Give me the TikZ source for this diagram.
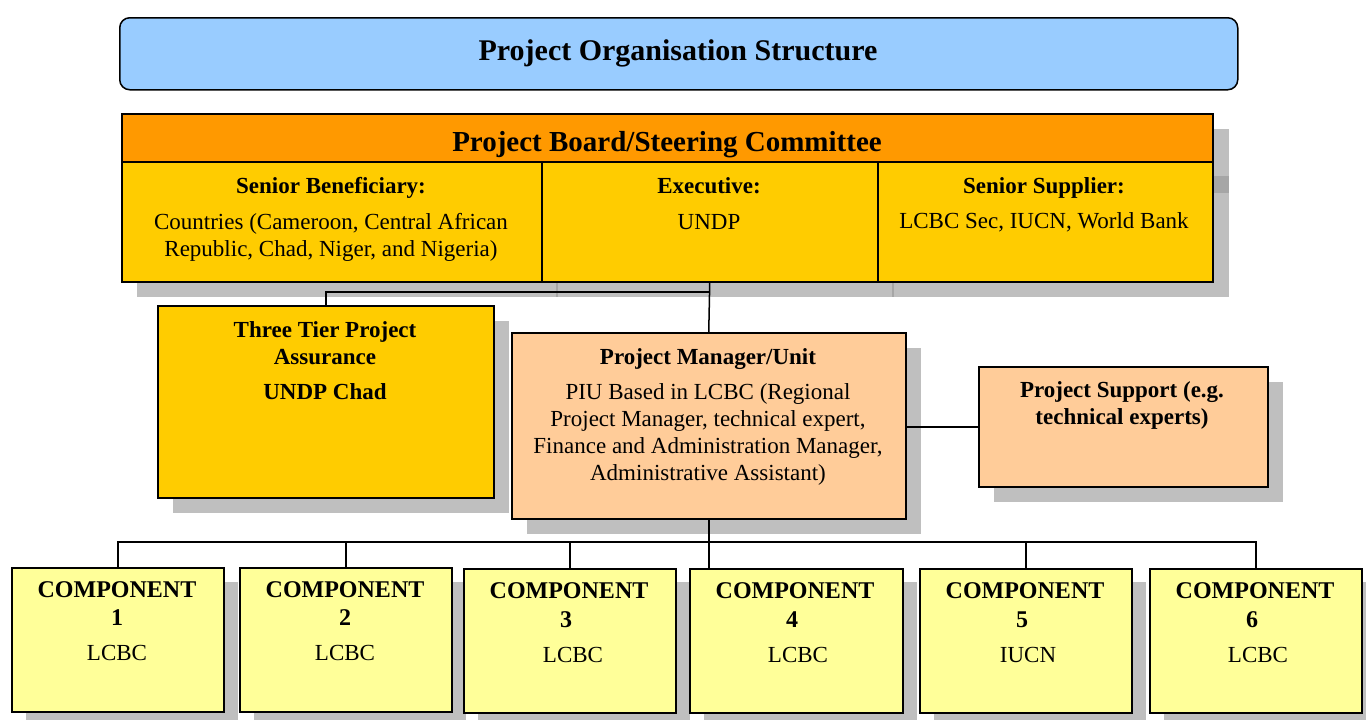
\documentclass[tikz,border=0pt]{standalone}
\usepackage{fontspec}
\setmainfont{Liberation Serif}
\definecolor{titleblue}{HTML}{99CCFF}
\definecolor{hdorange}{HTML}{FF9900}
\definecolor{cellgold}{HTML}{FFCC00}
\definecolor{peach}{HTML}{FFCC99}
\definecolor{paleyellow}{HTML}{FFFF99}
\definecolor{shadowgray}{HTML}{BFBFBF}
\definecolor{shadowdark}{HTML}{A6A6A6}
\begin{document}
\begin{tikzpicture}[x=1pt,y=-1pt,
  box/.style={draw=black,line width=1.5pt,inner sep=0pt,anchor=north west},
  conn/.style={draw=black,line width=1.5pt},
  shade/.style={fill=shadowgray},
  hd/.style={font=\bfseries\fontsize{23}{27}\selectfont,align=center,inner sep=0pt,anchor=base},
  bd/.style={font=\fontsize{23}{27}\selectfont,align=center,inner sep=0pt,anchor=base},
  cmp/.style={font=\bfseries\fontsize{24}{28}\selectfont,align=center,inner sep=0pt,anchor=base}
]
\useasboundingbox (0,0) rectangle (1366,720);

% ---------- shadows ----------
\fill[shade] (137,129) rectangle (1229,297);
\fill[shadowdark] (1213,176) rectangle (1229,193);
\draw[shadowdark,line width=1.2pt] (557,281) -- (557,297);
\draw[shadowdark,line width=1.2pt] (893,281) -- (893,297);
\fill[shade] (173,321) rectangle (509,513);
\fill[shade] (527,348) rectangle (921,534);
\fill[shade] (994,382) rectangle (1283,502);
\fill[shade] (26,582) rectangle (238,730);
\fill[shade] (254,582) rectangle (466,730);
\fill[shade] (478,582) rectangle (690,730);
\fill[shade] (704,582) rectangle (917,730);
\fill[shade] (934,582) rectangle (1146,730);
\fill[shade] (1164,582) rectangle (1376,730);

% ---------- boxes ----------
\node[box,fill=titleblue,rounded corners=10pt,minimum width=1118pt,minimum height=72pt] (ttl) at (119,17) {};
\node[box,fill=hdorange,minimum width=1091pt,minimum height=48pt] (hdr) at (121,113) {};
\node[box,fill=cellgold,minimum width=420pt,minimum height=120pt] (sben) at (121,161) {};
\node[box,fill=cellgold,minimum width=336pt,minimum height=120pt] (exec) at (541,161) {};
\node[box,fill=cellgold,minimum width=335pt,minimum height=120pt] (ssup) at (877,161) {};

\node[box,fill=cellgold,minimum width=336pt,minimum height=192pt] (assu) at (157,305) {};
\node[box,fill=peach,minimum width=394pt,minimum height=186pt] (pm) at (511,332) {};
\node[box,fill=peach,minimum width=289pt,minimum height=120pt] (supp) at (978,366) {};

\node[box,fill=paleyellow,minimum width=212pt,minimum height=144pt] (c1) at (11,567) {};
\node[box,fill=paleyellow,minimum width=212pt,minimum height=144pt] (c2) at (239,567) {};
\node[box,fill=paleyellow,minimum width=212pt,minimum height=144pt] (c3) at (463,568) {};
\node[box,fill=paleyellow,minimum width=213pt,minimum height=144pt] (c4) at (689,568) {};
\node[box,fill=paleyellow,minimum width=212pt,minimum height=144pt] (c5) at (919,568) {};
\node[box,fill=paleyellow,minimum width=212pt,minimum height=144pt] (c6) at (1149,568) {};

% ---------- connectors ----------
\coordinate (jn) at (709,292);
\coordinate (bar) at (709,542);
\draw[conn] (exec.south) -- (pm.north);
\draw[conn] (exec.south |- jn) -| (assu.north);
\draw[conn] (pm.east |- supp.west) -- (supp.west);
\draw[conn,line width=2pt] (pm.south) -- (pm.south |- c4.north);
\draw[conn] (c1.north) |- (bar) -| (c6.north);
\draw[conn] (c2.north) -- (c2.north |- bar);
\draw[conn] (c3.north) -- (c3.north |- bar);
\draw[conn] (c5.north) -- (c5.north |- bar);

% ---------- texts ----------
\node[hd,font=\bfseries\fontsize{30}{34}\selectfont] (tt) at (678,60) {Project Organisation Structure};
\node[hd,font=\bfseries\fontsize{29}{34}\selectfont] (ht) at (667,151) {Project Board/Steering Committee};

\node[hd] (sbh) at (331,193) {Senior Beneficiary:};
\node[bd] (sbt) at (331,256) {Countries (Cameroon, Central African\\Republic, Chad, Niger, and Nigeria)};
\node[hd] (exh) at (709,193) {Executive:};
\node[bd] (ext) at (709,229) {UNDP};
\node[hd] (ssh) at (1044,193) {Senior Supplier:};
\node[bd] (sst) at (1044,228) {LCBC Sec, IUCN, World Bank};

\node[hd] (ash) at (325,364) {Three Tier Project\\Assurance};
\node[hd] (ast) at (325,399) {UNDP Chad};

\node[hd] (pmh) at (708,364) {Project Manager/Unit};
\node[bd] (pmt) at (708,480) {PIU Based in LCBC (Regional\\Project Manager, technical expert,\\Finance and Administration Manager,\\Administrative Assistant)};

\node[hd] (sph) at (1122,424) {Project Support (e.g.\\technical experts)};

\node[cmp] (c1h) at (117,597) {COMPONENT};
\node[cmp] (c1n) at (117,625) {1};
\node[bd] (c1t) at (117,660) {LCBC};
\node[cmp] (c2h) at (345,597) {COMPONENT};
\node[cmp] (c2n) at (345,625) {2};
\node[bd] (c2t) at (345,660) {LCBC};
\node[cmp] (c3h) at (569,598) {COMPONENT};
\node[cmp] (c3n) at (566,627) {3};
\node[bd] (c3t) at (573,662) {LCBC};
\node[cmp] (c4h) at (795,598) {COMPONENT};
\node[cmp] (c4n) at (792,627) {4};
\node[bd] (c4t) at (798,662) {LCBC};
\node[cmp] (c5h) at (1025,598) {COMPONENT};
\node[cmp] (c5n) at (1022,627) {5};
\node[bd] (c5t) at (1028,662) {IUCN};
\node[cmp] (c6h) at (1255,598) {COMPONENT};
\node[cmp] (c6n) at (1252,627) {6};
\node[bd] (c6t) at (1258,662) {LCBC};
\end{tikzpicture}
\end{document}
